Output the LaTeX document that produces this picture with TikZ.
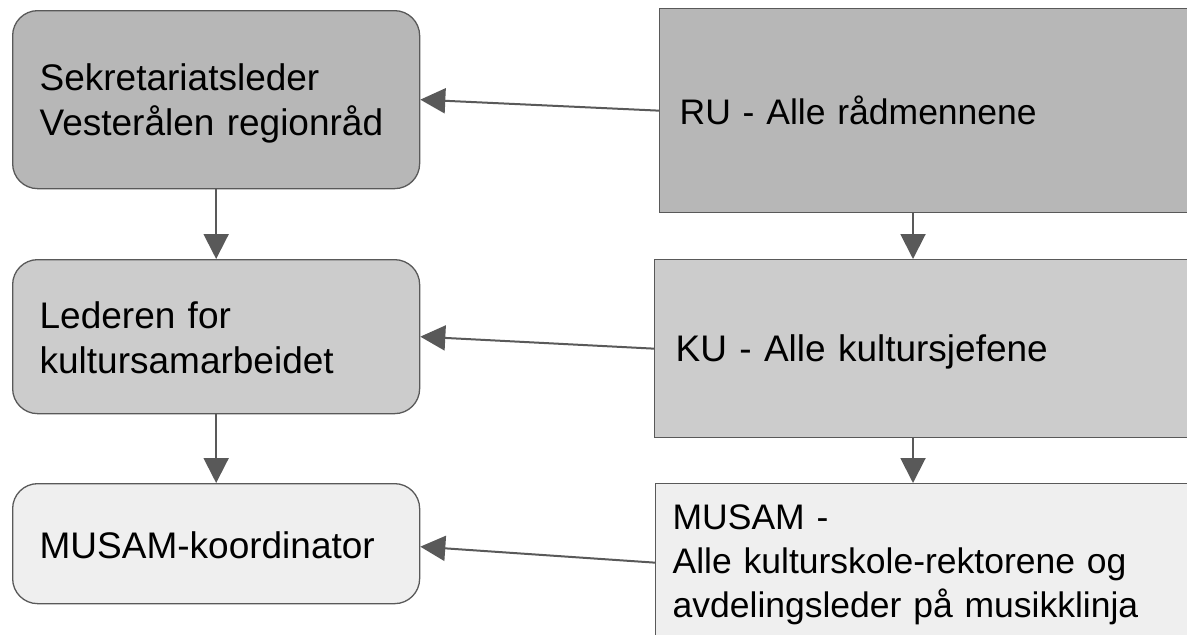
\documentclass[tikz,border=0pt]{standalone}
\usepackage{fontspec}
\setmainfont{Liberation Sans}
\usetikzlibrary{arrows.meta}
\definecolor{dk}{HTML}{B7B7B7}
\definecolor{md}{HTML}{CCCCCC}
\definecolor{lt}{HTML}{EFEFEF}
\definecolor{ln}{HTML}{595959}
\newcommand\mystrut{\rule[-0.12em]{0pt}{1.04em}}
\tikzset{
  box/.style={draw=ln, line width=1.3pt, anchor=north west, align=left,
    font=\fontsize{37}{45}\selectfont, inner ysep=0pt},
  smallfont/.style={font=\fontsize{35.5}{44}\selectfont},
  lbox/.style={box, rounded corners=25pt, minimum width=407pt, text width=353pt, inner xsep=27pt},
  rbox/.style={box, text width=520pt, inner xsep=20pt},
  conn/.style={draw=ln, line width=2pt, -{Triangle[length=25pt,width=25pt]}}
}
\begin{document}
\begin{tikzpicture}[x=1pt,y=-1pt]
\useasboundingbox (0,0) rectangle (1187,635);
\clip (0,0) rectangle (1187,635);
\node[lbox, fill=dk, minimum height=178pt] (A) at (12,10) {\mystrut Sekretariatsleder\\\mystrut Vesterålen regionråd};
\node[lbox, fill=md, minimum height=154pt] (B) at (12,259) {\mystrut Lederen for\\\mystrut kultursamarbeidet};
\node[lbox, fill=lt, minimum height=120pt] (C) at (12,483) {\mystrut MUSAM-koordinator};
\node[rbox, smallfont, fill=dk, minimum height=204pt] (RU) at (659,8) {\mystrut RU - Alle rådmennene};
\node[rbox, fill=md, minimum height=178pt, inner xsep=21pt] (KU) at (654,259) {\mystrut KU - Alle kultursjefene};
\node[rbox, smallfont, fill=lt, minimum height=154pt, inner xsep=17pt] (MU) at (655,483) {\mystrut MUSAM -\\\mystrut Alle kulturskole-rektorene og\\\mystrut avdelingsleder på musikklinja};
\draw[conn] (RU.west) -- (A.east);
\draw[conn] (KU.west) -- (B.east);
\draw[conn] ([yshift=-2pt]MU.west) -- ([yshift=-3pt]C.east);
\draw[conn] (A.south) -- (B.north);
\draw[conn] (B.south) -- (C.north);
\path (RU.south west) ++(254,0) coordinate (r1);
\path (KU.south west) ++(259,0) coordinate (k1);
\draw[conn] (r1) -- (r1 |- KU.north);
\draw[conn] (k1) -- (k1 |- MU.north);
\end{tikzpicture}
\end{document}
